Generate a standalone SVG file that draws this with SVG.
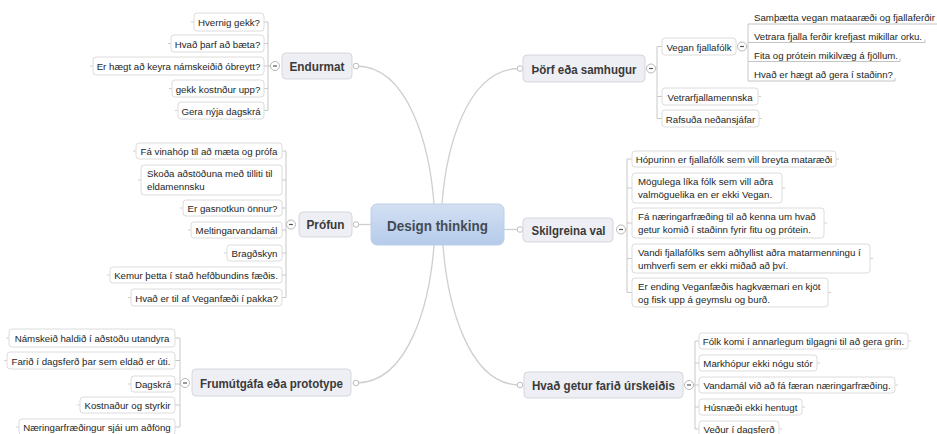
<svg xmlns="http://www.w3.org/2000/svg" width="937" height="434" viewBox="0 0 937 434">
  <defs>
    <linearGradient id="centralFill" x1="0" y1="0" x2="0" y2="1">
      <stop offset="0" stop-color="#d3e0f2"/>
      <stop offset="1" stop-color="#b4cbea"/>
    </linearGradient>
    <style>
      text { font-family: "Liberation Sans", Arial, Helvetica, sans-serif; }
      .central rect { fill: url(#centralFill); stroke: #bccfe8; stroke-width: 1; }
      .central text { font-size: 15px; font-weight: bold; fill: #454b55; text-anchor: middle; }
      .main rect { fill: #eeeff4; stroke: #d6d7de; stroke-width: 1; }
      .main text { font-size: 13px; font-weight: bold; fill: #3a3a3a; text-anchor: middle; }
      .leaf rect { fill: #ffffff; stroke: #dcdcdc; stroke-width: 1; }
      .leaf text { font-size: 9.7px; fill: #1e1e1e; }
      .leaf text.c { text-anchor: middle; }
      .sub text { font-size: 9.7px; fill: #1e1e1e; }
      .sub path { fill: none; stroke: #c4c4c4; stroke-width: 1; }
      .stub { stroke: #d0d0d0; stroke-width: 1; }
      .curve { fill: none; stroke: #cfcfcf; stroke-width: 1.3; }
      .bracket { fill: none; stroke: #c8c8c8; stroke-width: 1; }
      .dot { fill: #ffffff; stroke: #bdbdbd; stroke-width: 1; }
      .fold circle { fill: #ffffff; stroke: #b8b8b8; stroke-width: 1; }
      .fold line { stroke: #555555; stroke-width: 1.2; }
    </style>
  </defs>

  <rect width="937" height="434" fill="#ffffff"/>

  <!-- connectors: root curves, branch brackets -->
  <g id="connectors">
    <path class="curve" d="M356,66 C410,66 430,150 434,204"/>
    <path class="curve" d="M520,68.5 C466,68.5 446,150 442,204"/>
    <path class="curve" d="M434,245 C430,300 410,383 356,383"/>
    <path class="curve" d="M443,245 C447,300 467,385 520,385"/>
    <line class="curve" x1="356" y1="224.5" x2="371" y2="224.5"/>
    <line class="curve" x1="504" y1="229.5" x2="520" y2="229.5"/>

    <!-- Endurmat branch -->
    <path class="bracket" d="M268,22 V110.5 M264,22 H268 M264,43.5 H268 M264,66 H271 M264,88.5 H268 M264,110.5 H268"/>
    <!-- Þörf eða samhugur branch -->
    <path class="bracket" d="M657,46.5 V118.5 M655.5,68.5 H657 M657,46.5 H662 M657,96.5 H662 M657,118.5 H662"/>
    <path class="bracket" d="M748,24 V81 M746.5,46.5 H748"/>
    <!-- Prófun branch -->
    <path class="bracket" d="M286,151 V297.5 M282,151 H286 M282,180 H286 M282,208 H286 M282,230 H286 M282,253 H286 M282,275 H286 M282,297.5 H286 M286,224.5 H287"/>
    <!-- Skilgreina val branch -->
    <path class="bracket" d="M627,159 V292.5 M625.5,229.5 H627 M627,159 H632 M627,188 H632 M627,223 H632 M627,258.5 H632 M627,292.5 H632"/>
    <!-- Frumútgáfa branch -->
    <path class="bracket" d="M180,338 V427 M175,338 H180 M175,360.5 H180 M175,384 H181 M175,405 H180 M175,427 H180"/>
    <!-- Hvað getur farið úrskeiðis branch -->
    <path class="bracket" d="M695,341 V429 M693.5,385 H699 M695,341 H699 M695,363 H699 M695,407 H699 M695,429 H699"/>

    <circle class="dot" cx="356" cy="66" r="2.8"/>
    <circle class="dot" cx="520" cy="68.5" r="2.8"/>
    <circle class="dot" cx="356" cy="224.5" r="2.8"/>
    <circle class="dot" cx="520" cy="229.5" r="2.8"/>
    <circle class="dot" cx="356" cy="383" r="2.8"/>
    <circle class="dot" cx="520" cy="385" r="2.8"/>
  </g>

  <!-- fold toggles -->
  <g class="fold">
    <circle cx="275" cy="66" r="4.5"/><line x1="273" y1="66" x2="277" y2="66"/>
    <circle cx="651" cy="68.5" r="4.5"/><line x1="649" y1="68.5" x2="653" y2="68.5"/>
    <circle cx="742" cy="46.5" r="4.5"/><line x1="740" y1="46.5" x2="744" y2="46.5"/>
    <circle cx="291" cy="224.5" r="4.5"/><line x1="289" y1="224.5" x2="293" y2="224.5"/>
    <circle cx="621" cy="229.5" r="4.5"/><line x1="619" y1="229.5" x2="623" y2="229.5"/>
    <circle cx="185" cy="383" r="4.5"/><line x1="183" y1="383" x2="187" y2="383"/>
    <circle cx="689" cy="385" r="4.5"/><line x1="687" y1="385" x2="691" y2="385"/>
  </g>

  <!-- root -->
  <g id="design-thinking" class="central">
    <rect x="371" y="204" width="133" height="41" rx="6"/>
    <text x="437.5" y="230.5" textLength="101" lengthAdjust="spacingAndGlyphs">Design thinking</text>
  </g>

  <!-- main topics -->
  <g id="endurmat" class="main">
    <rect x="282" y="53" width="70" height="26" rx="4"/>
    <text x="317" y="71" textLength="55" lengthAdjust="spacingAndGlyphs">Endurmat</text>
  </g>
  <g id="thorf" class="main">
    <rect x="523" y="55" width="122" height="27" rx="4"/>
    <text x="584" y="73.5" textLength="105" lengthAdjust="spacingAndGlyphs">Þörf eða samhugur</text>
  </g>
  <g id="profun" class="main">
    <rect x="299" y="212" width="53" height="25" rx="4"/>
    <text x="325.5" y="229" textLength="38" lengthAdjust="spacingAndGlyphs">Prófun</text>
  </g>
  <g id="skilgreina" class="main">
    <rect x="523" y="218" width="90" height="24" rx="4"/>
    <text x="568.5" y="234.5" textLength="74" lengthAdjust="spacingAndGlyphs">Skilgreina val</text>
  </g>
  <g id="frumutgafa" class="main">
    <rect x="192" y="369" width="159" height="27" rx="4"/>
    <text x="271.5" y="387.5" textLength="143" lengthAdjust="spacingAndGlyphs">Frumútgáfa eða prototype</text>
  </g>
  <g id="urskeidis" class="main">
    <rect x="524" y="372" width="159" height="26" rx="4"/>
    <text x="603.5" y="390" textLength="143" lengthAdjust="spacingAndGlyphs">Hvað getur farið úrskeiðis</text>
  </g>

  <!-- Endurmat leaves -->
  <g id="e1" class="leaf"><line class="stub" x1="191" y1="22" x2="194" y2="22"/><rect x="194" y="13" width="70" height="18" rx="3"/><text class="c" x="229" y="26">Hvernig gekk?</text></g>
  <g id="e2" class="leaf"><line class="stub" x1="168" y1="43.5" x2="171" y2="43.5"/><rect x="171" y="35" width="93" height="17" rx="3"/><text class="c" x="217.5" y="47.5">Hvað þarf að bæta?</text></g>
  <g id="e3" class="leaf"><line class="stub" x1="90" y1="66" x2="93" y2="66"/><rect x="93" y="57" width="171" height="18" rx="3"/><text class="c" x="178.5" y="70">Er hægt að keyra námskeiðið óbreytt?</text></g>
  <g id="e4" class="leaf"><line class="stub" x1="169" y1="88.5" x2="172" y2="88.5"/><rect x="172" y="80" width="92" height="17" rx="3"/><text class="c" x="218" y="92.5">gekk kostnður upp?</text></g>
  <g id="e5" class="leaf"><line class="stub" x1="175" y1="110.5" x2="178" y2="110.5"/><rect x="178" y="102" width="86" height="17" rx="3"/><text class="c" x="221" y="114.5">Gera nýja dagskrá</text></g>

  <!-- Þörf eða samhugur leaves -->
  <g id="t1" class="leaf"><rect x="662" y="38" width="74" height="17" rx="3"/><text class="c" x="699" y="50.5">Vegan fjallafólk</text></g>
  <g id="t2" class="leaf"><line class="stub" x1="758" y1="96.5" x2="761" y2="96.5"/><rect x="662" y="88" width="96" height="17" rx="3"/><text class="c" x="710" y="100.5">Vetrarfjallamennska</text></g>
  <g id="t3" class="leaf"><line class="stub" x1="759" y1="118.5" x2="762" y2="118.5"/><rect x="662" y="110" width="97" height="17" rx="3"/><text class="c" x="710.5" y="122.5">Rafsuða neðansjáfar</text></g>

  <!-- Vegan fjallafólk sub-topics -->
  <g id="v1" class="sub"><path d="M748,24 H940"/><text x="754" y="21" textLength="181" lengthAdjust="spacingAndGlyphs">Samþætta vegan mataaræði og fjallaferðir</text></g>
  <g id="v2" class="sub"><path d="M748,42.5 H925 V39.5"/><text x="754" y="39.5" textLength="168" lengthAdjust="spacingAndGlyphs">Vetrara fjalla ferðir krefjast mikillar orku.</text></g>
  <g id="v3" class="sub"><path d="M748,61.5 H900 V58.5"/><text x="754" y="58.5" textLength="144" lengthAdjust="spacingAndGlyphs">Fita og prótein mikilvæg á fjöllum.</text></g>
  <g id="v4" class="sub"><path d="M748,81 H895 V78"/><text x="754" y="78" textLength="139" lengthAdjust="spacingAndGlyphs">Hvað er hægt að gera í staðinn?</text></g>

  <!-- Prófun leaves -->
  <g id="p1" class="leaf"><line class="stub" x1="133" y1="151" x2="136" y2="151"/><rect x="136" y="143" width="146" height="16" rx="3"/><text class="c" x="209" y="155">Fá vinahóp til að mæta og prófa</text></g>
  <g id="p2" class="leaf"><line class="stub" x1="138" y1="180" x2="141" y2="180"/><rect x="141" y="165" width="141" height="30" rx="3"/><text x="147" y="177">Skoða aðstöðuna með tilliti til</text><text x="147" y="190">eldamennsku</text></g>
  <g id="p3" class="leaf"><line class="stub" x1="180" y1="208" x2="183" y2="208"/><rect x="183" y="200" width="99" height="16" rx="3"/><text class="c" x="232.5" y="212">Er gasnotkun önnur?</text></g>
  <g id="p4" class="leaf"><line class="stub" x1="188" y1="230" x2="191" y2="230"/><rect x="191" y="222" width="91" height="16" rx="3"/><text class="c" x="236.5" y="234">Meltingarvandamál</text></g>
  <g id="p5" class="leaf"><line class="stub" x1="224" y1="253" x2="227" y2="253"/><rect x="227" y="245" width="55" height="16" rx="3"/><text class="c" x="254.5" y="257">Bragðskyn</text></g>
  <g id="p6" class="leaf"><line class="stub" x1="107" y1="275" x2="110" y2="275"/><rect x="110" y="267" width="172" height="16" rx="3"/><text class="c" x="196" y="279">Kemur þetta í stað hefðbundins fæðis.</text></g>
  <g id="p7" class="leaf"><line class="stub" x1="128" y1="297.5" x2="131" y2="297.5"/><rect x="131" y="289" width="151" height="17" rx="3"/><text class="c" x="206.5" y="301.5">Hvað er til af Veganfæði í pakka?</text></g>

  <!-- Skilgreina val leaves -->
  <g id="s1" class="leaf"><line class="stub" x1="836" y1="159" x2="839" y2="159"/><rect x="632" y="151" width="204" height="16" rx="3"/><text class="c" x="734" y="163">Hópurinn er fjallafólk sem vill breyta mataræði</text></g>
  <g id="s2" class="leaf"><line class="stub" x1="782" y1="188" x2="785" y2="188"/><rect x="632" y="173" width="150" height="30" rx="3"/><text x="638" y="185">Mögulega líka fólk sem vill aðra</text><text x="638" y="198">valmöguelika en er ekki Vegan.</text></g>
  <g id="s3" class="leaf"><line class="stub" x1="824" y1="223" x2="827" y2="223"/><rect x="632" y="208" width="192" height="30" rx="3"/><text x="638" y="220">Fá næringarfræðing til að kenna um hvað</text><text x="638" y="233">getur komið í staðinn fyrir fitu og prótein.</text></g>
  <g id="s4" class="leaf"><line class="stub" x1="870" y1="258.5" x2="873" y2="258.5"/><rect x="632" y="244" width="238" height="29" rx="3"/><text x="638" y="256">Vandi fjallafólks sem aðhyllist aðra matarmenningu í</text><text x="638" y="269">umhverfi sem er ekki miðað að því.</text></g>
  <g id="s5" class="leaf"><line class="stub" x1="828" y1="292.5" x2="831" y2="292.5"/><rect x="632" y="278" width="196" height="29" rx="3"/><text x="638" y="290">Er ending Veganfæðis hagkvæmari en kjöt</text><text x="638" y="303">og fisk upp á geymslu og burð.</text></g>

  <!-- Frumútgáfa leaves -->
  <g id="f1" class="leaf"><line class="stub" x1="6" y1="338" x2="9" y2="338"/><rect x="9" y="329" width="166" height="18" rx="3"/><text class="c" x="92" y="342">Námskeið haldið í aðstöðu utandyra</text></g>
  <g id="f2" class="leaf"><line class="stub" x1="4" y1="360.5" x2="7" y2="360.5"/><rect x="7" y="352" width="168" height="17" rx="3"/><text class="c" x="91" y="364.5">Farið í dagsferð þar sem eldað er úti.</text></g>
  <g id="f3" class="leaf"><line class="stub" x1="128" y1="384" x2="131" y2="384"/><rect x="131" y="376" width="44" height="16" rx="3"/><text class="c" x="153" y="388">Dagskrá</text></g>
  <g id="f4" class="leaf"><line class="stub" x1="77" y1="405" x2="80" y2="405"/><rect x="80" y="397" width="95" height="16" rx="3"/><text class="c" x="127.5" y="409">Kostnaður og styrkir</text></g>
  <g id="f5" class="leaf"><line class="stub" x1="16" y1="427" x2="19" y2="427"/><rect x="19" y="419" width="156" height="16" rx="3"/><text class="c" x="97" y="431">Næringarfræðingur sjái um aðföng</text></g>

  <!-- Hvað getur farið úrskeiðis leaves -->
  <g id="h1" class="leaf"><line class="stub" x1="908" y1="341" x2="911" y2="341"/><rect x="699" y="333" width="209" height="16" rx="3"/><text class="c" x="803.5" y="345">Fólk komi í annarlegum tilgagni til að gera grín.</text></g>
  <g id="h2" class="leaf"><line class="stub" x1="817" y1="363" x2="820" y2="363"/><rect x="699" y="355" width="118" height="16" rx="3"/><text class="c" x="758" y="367">Markhópur ekki nógu stór</text></g>
  <g id="h3" class="leaf"><line class="stub" x1="895" y1="385" x2="898" y2="385"/><rect x="699" y="377" width="196" height="16" rx="3"/><text class="c" x="797" y="389">Vandamál við að fá færan næringarfræðing.</text></g>
  <g id="h4" class="leaf"><line class="stub" x1="802" y1="407" x2="805" y2="407"/><rect x="699" y="399" width="103" height="16" rx="3"/><text class="c" x="750.5" y="411">Húsnæði ekki hentugt</text></g>
  <g id="h5" class="leaf"><line class="stub" x1="779" y1="429" x2="782" y2="429"/><rect x="699" y="421" width="80" height="16" rx="3"/><text class="c" x="739" y="433">Veður í dagsferð</text></g>
</svg>
